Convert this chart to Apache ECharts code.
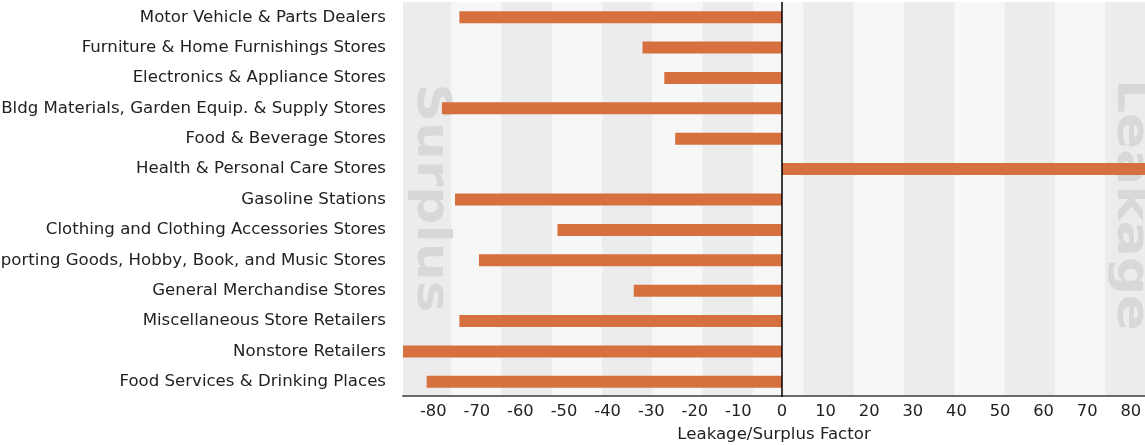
<!DOCTYPE html>
<html>
<head>
<meta charset="utf-8">
<title>Leakage/Surplus Factor by Industry Group</title>
<script src="https://cdn.jsdelivr.net/npm/echarts@6/dist/echarts.min.js"></script>
<style>
  html, body { margin: 0; padding: 0; background: #ffffff; }
  #chart { width: 1145px; height: 445px; }
</style>
</head>
<body>
<div id="chart"></div>
<script>
// Retail industry groups, listed top to bottom
const categories = [
  'Motor Vehicle & Parts Dealers',
  'Furniture & Home Furnishings Stores',
  'Electronics & Appliance Stores',
  'Bldg Materials, Garden Equip. & Supply Stores',
  'Food & Beverage Stores',
  'Health & Personal Care Stores',
  'Gasoline Stations',
  'Clothing and Clothing Accessories Stores',
  'Sporting Goods, Hobby, Book, and Music Stores',
  'General Merchandise Stores',
  'Miscellaneous Store Retailers',
  'Nonstore Retailers',
  'Food Services & Drinking Places'
];

// Leakage/surplus factor per group (negative = surplus, positive = leakage)
const leakageSurplus = [-74, -32, -27, -78, -24.5, 95, -75, -51.5, -69.5, -34, -74, -87, -81.5];

// Tick labels along the factor axis
const tickValues = [-80, -70, -60, -50, -40, -30, -20, -10, 0, 10, 20, 30, 40, 50, 60, 70, 80];

const FONT = 'DejaVu Sans';
const LABEL_SIZE = 16.6;
const AXIS_MIN = -86.93;
const AXIS_MAX = 83.26;

// Alternating shaded columns behind the bars
const BAND_START = -87.43;
const BAND_WIDTH = 11.54;
const bands = [];
for (let s = BAND_START; s < AXIS_MAX; s += 2 * BAND_WIDTH) {
  bands.push([s, s + BAND_WIDTH, 0]);
}

const chart = echarts.init(document.getElementById('chart'), null, { renderer: 'canvas' });

// Large soft watermark words on either side of the zero line
function watermark(text, x, y) {
  return {
    type: 'text', z: 1, x: x, y: y,
    rotation: -Math.PI / 2, scaleX: 1.16,
    style: {
      text: text, align: 'center', verticalAlign: 'middle',
      font: 'bold 46px "DejaVu Sans"', fill: '#d8d8d8',
      shadowColor: '#d8d8d8', shadowBlur: 4
    }
  };
}

chart.setOption({
  animation: false,
  textStyle: { fontFamily: FONT },
  grid: {
    left: 403, right: 0, top: 2, bottom: 48,
    outerBoundsMode: 'none',
    show: true, backgroundColor: '#f7f7f7', borderWidth: 0
  },
  graphic: [
    watermark('Surplus', 430, 198),
    watermark('Leakage', 1130, 205)
  ],
  xAxis: {
    type: 'value',
    min: AXIS_MIN,
    max: AXIS_MAX,
    offset: -1,
    name: 'Leakage/Surplus Factor',
    nameLocation: 'middle',
    nameGap: 30,
    nameTextStyle: { fontSize: LABEL_SIZE, color: '#222', fontFamily: FONT },
    axisLine: { show: true, onZero: false, lineStyle: { color: '#6a6a6a', width: 2 } },
    axisTick: { show: false },
    splitLine: { show: false },
    axisLabel: {
      customValues: tickValues,
      fontSize: 16.3, color: '#222', margin: 8, fontFamily: FONT
    }
  },
  yAxis: {
    type: 'category',
    inverse: true,
    data: categories,
    axisLine: { show: false },
    axisTick: { show: false },
    splitLine: { show: false },
    axisLabel: { fontSize: LABEL_SIZE, color: '#222', margin: 17, fontFamily: FONT }
  },
  series: [
    {
      type: 'custom',
      z: 0,
      silent: true,
      data: bands,
      encode: { x: [0, 1], y: 2 },
      renderItem: function (params, api) {
        const cs = params.coordSys;
        const x0 = api.coord([api.value(0), 0])[0];
        const x1 = api.coord([api.value(1), 0])[0];
        const shape = echarts.graphic.clipRectByRect(
          { x: x0, y: cs.y, width: x1 - x0, height: cs.height },
          { x: cs.x, y: cs.y, width: cs.width, height: cs.height }
        );
        return shape && { type: 'rect', shape: shape, style: { fill: '#ececec' } };
      }
    },
    {
      type: 'bar',
      z: 3,
      data: leakageSurplus,
      barWidth: 12,
      itemStyle: { color: '#d6703f' },
      markLine: {
        silent: true,
        symbol: 'none',
        label: { show: false },
        lineStyle: { color: '#000', width: 1.5, type: 'solid' },
        data: [{ xAxis: 0 }]
      }
    }
  ]
});
</script>
</body>
</html>
